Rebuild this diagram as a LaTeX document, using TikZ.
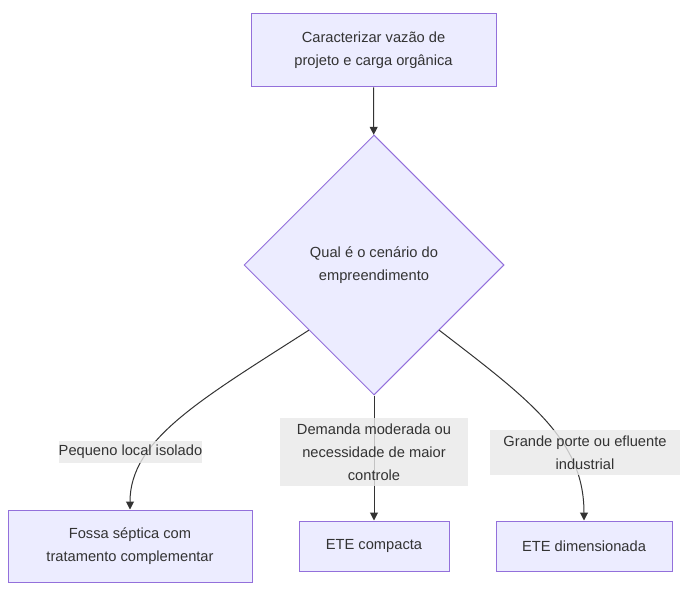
\documentclass[tikz,border=0pt]{standalone}
\usepackage{fontspec}
\setmainfont{Liberation Sans}
\usepackage{tikz}
\usetikzlibrary{shapes.geometric,arrows.meta}
\definecolor{boxfill}{HTML}{ECECFF}
\definecolor{boxline}{HTML}{9370DB}
\definecolor{edgecol}{HTML}{333333}
\definecolor{lblfill}{HTML}{E8E8E8}

\begin{document}
\begin{tikzpicture}[x=0.75pt,y=-0.75pt,
  box/.style={draw=boxline,fill=boxfill,line width=0.75pt,align=center,
    text=edgecol,inner sep=0pt,font=\fontsize{11}{17.25}\selectfont},
  decision/.style={box,diamond,aspect=1,minimum width=195pt,minimum height=195pt},
  lbl/.style={fill=lblfill,fill opacity=0.8,text opacity=1,text=edgecol,
    align=center,inner sep=0pt,font=\fontsize{11}{17.25}\selectfont},
  flow/.style={draw=edgecol,line width=0.75pt,-{Triangle[length=6pt,width=6pt]}}]
\useasboundingbox (0,0) rectangle (686,602);
\node [box,minimum width=183.75pt,minimum height=54.75pt] (char) at (373.5,50.5)
  {Caracterizar vazão de\\projeto e carga orgânica};
\node [decision] (cen) at (374,265) {Qual é o cenário do\\empreendimento};
\node [box,minimum width=183pt,minimum height=54pt] (fossa) at (130,546)
  {Fossa séptica com\\tratamento complementar};
\node [box,minimum width=112.5pt,minimum height=37.5pt] (compacta) at (374,546)
  {ETE compacta};
\node [box,minimum width=132pt,minimum height=37.5pt] (dimens) at (584,546)
  {ETE dimensionada};
\draw [flow] (char) -- (cen);
\draw [flow] (cen.south west) .. controls (200,400) and (130,440) .. (fossa.north);
\draw [flow] (cen) -- (compacta);
\draw [flow] (cen.south east) .. controls (530,400) and (584,440) .. (dimens.north);
\node [lbl,minimum width=107pt,minimum height=16.5pt] (lpeq) at (130.5,452)
  {Pequeno local isolado};
\node [lbl,minimum width=141pt,minimum height=51pt] (ldem) at (374,452)
  {Demanda moderada ou\\necessidade de maior\\controle};
\node [lbl,minimum width=142.5pt,minimum height=33.75pt] (lgra) at (585,452.5)
  {Grande porte ou efluente\\industrial};
\end{tikzpicture}
\end{document}
